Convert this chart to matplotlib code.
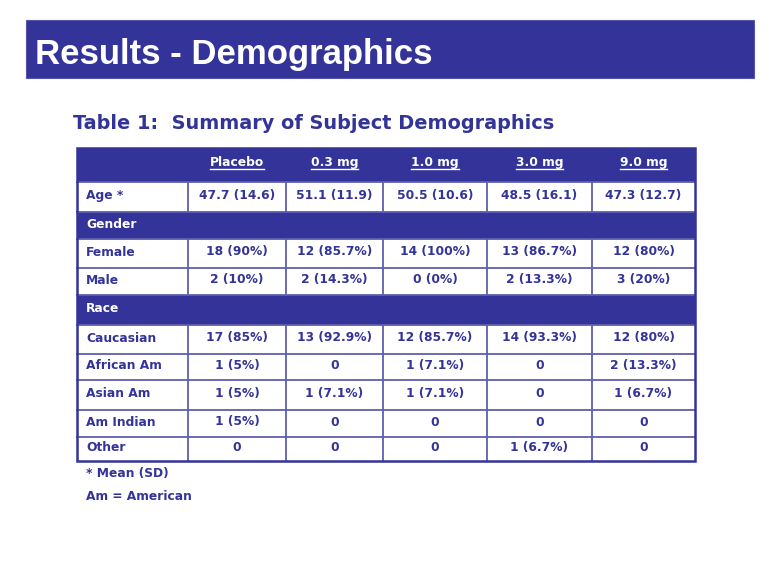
import matplotlib
matplotlib.use("Agg")
import matplotlib.pyplot as plt
from matplotlib.patches import Rectangle

# ---- data ----
title = "Results - Demographics"
subtitle = "Table 1:  Summary of Subject Demographics"
columns = ["Placebo", "0.3 mg", "1.0 mg", "3.0 mg", "9.0 mg"]
row_labels = ["Age *", "Gender", "Female", "Male", "Race", "Caucasian",
              "African Am", "Asian Am", "Am Indian", "Other"]
section_rows = ["Gender", "Race"]
age = ["47.7 (14.6)", "51.1 (11.9)", "50.5 (10.6)", "48.5 (16.1)", "47.3 (12.7)"]
female = ["18 (90%)", "12 (85.7%)", "14 (100%)", "13 (86.7%)", "12 (80%)"]
male = ["2 (10%)", "2 (14.3%)", "0 (0%)", "2 (13.3%)", "3 (20%)"]
caucasian = ["17 (85%)", "13 (92.9%)", "12 (85.7%)", "14 (93.3%)", "12 (80%)"]
african_am = ["1 (5%)", "0", "1 (7.1%)", "0", "2 (13.3%)"]
asian_am = ["1 (5%)", "1 (7.1%)", "1 (7.1%)", "0", "1 (6.7%)"]
am_indian = ["1 (5%)", "0", "0", "0", "0"]
other = ["0", "0", "0", "1 (6.7%)", "0"]
footnotes = ["* Mean (SD)", "Am = American"]

row_values = {"Age *": age, "Female": female, "Male": male,
              "Caucasian": caucasian, "African Am": african_am,
              "Asian Am": asian_am, "Am Indian": am_indian, "Other": other}

# ---- layout (pixel coordinates) ----
W, H = 780, 585
NAVY = "#333399"
LINE = "#5f5fb0"
col_edges = [77, 188, 286, 383, 487, 592, 695]
row_edges = [148, 182, 212, 239, 268, 295, 325, 354, 380, 410, 437, 461]

fig = plt.figure(figsize=(W / 100, H / 100), dpi=100)
ax = fig.add_axes([0, 0, 1, 1])
ax.set_xlim(0, W)
ax.set_ylim(H, 0)
ax.axis("off")

# title band
ax.add_patch(Rectangle((26, 20), 728, 58, facecolor=NAVY, edgecolor="#5555aa", lw=0.8))
ax.text(35, 64, title, color="white", fontsize=25, fontweight="bold",
        family="Liberation Sans", va="baseline", ha="left")

ax.text(73, 129, subtitle, color=NAVY, fontsize=13.9, fontweight="bold",
        family="DejaVu Sans", va="baseline", ha="left")

cell_fs = 8.8
BL = 3.0  # baseline offset below row centre
x0, x1 = col_edges[0], col_edges[-1]

# blue rows: header + sections
blue_rows = [0] + [row_labels.index(s) + 1 for s in section_rows]
for r in blue_rows:
    ax.add_patch(Rectangle((x0, row_edges[r]), x1 - x0, row_edges[r + 1] - row_edges[r],
                           facecolor=NAVY, edgecolor="none", zorder=1))

# horizontal lines
for r in range(1, len(row_edges) - 1):
    ax.plot([x0, x1], [row_edges[r], row_edges[r]], color=LINE, lw=1.3, zorder=2)
# vertical lines (only in non-blue rows)
for r in range(1, len(row_edges) - 1):
    if r in blue_rows:
        continue
    for c in col_edges[1:-1]:
        ax.plot([c, c], [row_edges[r], row_edges[r + 1]], color=LINE, lw=1.3, zorder=2)
# outer border
ax.add_patch(Rectangle((x0, row_edges[0]), x1 - x0, row_edges[-1] - row_edges[0],
                       facecolor="none", edgecolor=NAVY, lw=1.8, zorder=3))

# header text with underline
yh = (row_edges[0] + row_edges[1]) / 2 - 2 + BL
header_texts = []
for i, name in enumerate(columns):
    xc = (col_edges[i + 1] + col_edges[i + 2]) / 2
    t = ax.text(xc, yh, name, color="white", fontsize=cell_fs, fontweight="bold",
                family="DejaVu Sans", ha="center", va="baseline", zorder=4)
    header_texts.append(t)

# body text
for r, lab in enumerate(row_labels):
    y = (row_edges[r + 1] + row_edges[r + 2]) / 2 - 1 + BL
    color = "white" if lab in section_rows else NAVY
    ax.text(86, y, lab, color=color, fontsize=cell_fs, fontweight="bold",
            family="DejaVu Sans", ha="left", va="baseline", zorder=4)
    if lab in row_values:
        for i, v in enumerate(row_values[lab]):
            xc = (col_edges[i + 1] + col_edges[i + 2]) / 2
            ax.text(xc, y, v, color=NAVY, fontsize=cell_fs, fontweight="bold",
                    family="DejaVu Sans", ha="center", va="baseline", zorder=4)

# footnotes
ax.text(86, 477, footnotes[0], color=NAVY, fontsize=cell_fs, fontweight="bold",
        family="DejaVu Sans", ha="left", va="baseline")
ax.text(86, 500, footnotes[1], color=NAVY, fontsize=cell_fs, fontweight="bold",
        family="DejaVu Sans", ha="left", va="baseline")

# underline headers
fig.canvas.draw()
renderer = fig.canvas.get_renderer()
inv = ax.transData.inverted()
for t in header_texts:
    bb = t.get_window_extent(renderer)
    (xa, _), (xb, _) = inv.transform([[bb.x0, bb.y0], [bb.x1, bb.y1]])
    yl = yh + 2.5
    ax.plot([xa, xb], [yl, yl], color="white", lw=1.0, zorder=4)

fig.savefig("out.png", dpi=100, facecolor="white")
